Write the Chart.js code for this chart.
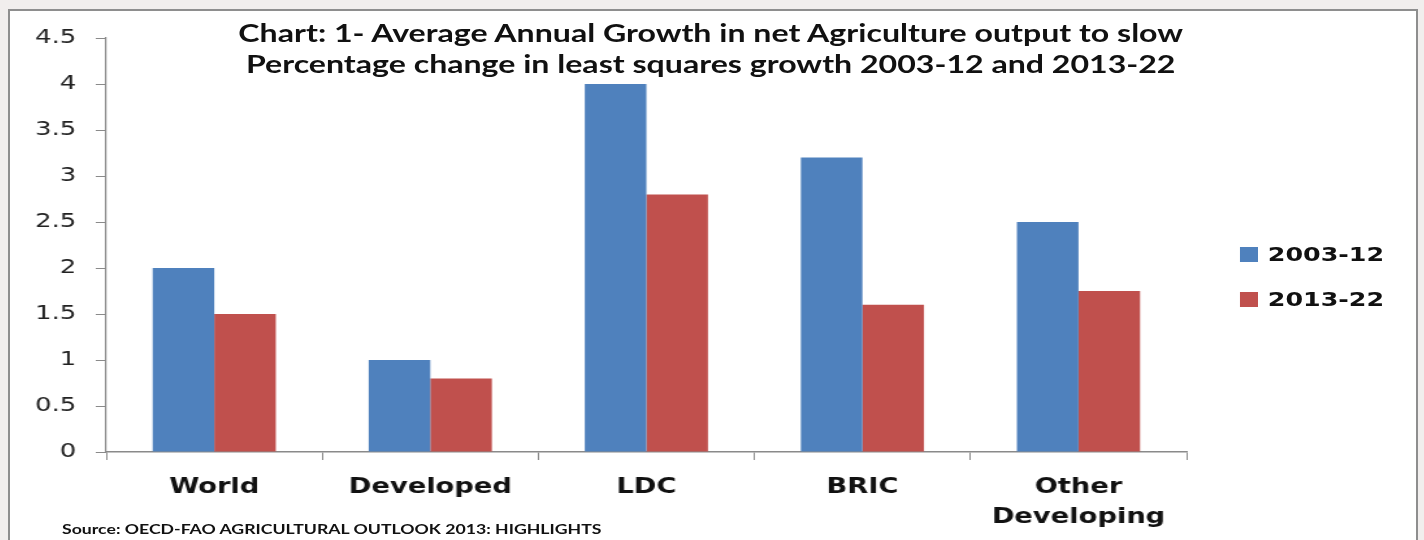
<!DOCTYPE html>
<html>
<head>
<meta charset="utf-8">
<script src="https://cdn.jsdelivr.net/npm/chart.js@4.4.1/dist/chart.umd.min.js"></script>
<style>
  body { margin: 0; width: 1424px; height: 540px; overflow: hidden; position: relative; background: #f1eeed; }
  #frame { position: absolute; left: 8px; top: 9px; width: 1406px; height: 560px; background: #fff; border: 2px solid #8e8e8e; }
  /* the original picture is stretched sideways, so the whole chart is too */
  #stage { position: absolute; left: 10px; top: 11px; width: 1082px; height: 529px; transform: scaleX(1.3); transform-origin: 0 0; }
  #chart-box { position: absolute; left: 0; top: 0; width: 1082px; height: 529px; }
  .title { position: absolute; left: 139px; width: 800px; text-align: center; font: bold 24.7px Lato, sans-serif; color: #111; line-height: 28px; white-space: nowrap; }
  #source { position: absolute; left: 40px; top: 510px; font: bold 13.6px Lato, sans-serif; color: #111; white-space: nowrap; }
  #legend { position: absolute; left: 945.5px; top: 231px; }
  .leg-item { display: flex; align-items: center; height: 24px; margin-bottom: 21px; font: bold 19.5px "DejaVu Sans", sans-serif; color: #111; }
  .leg-box { width: 14px; height: 15px; margin-right: 8px; }
</style>
</head>
<body>
<div id="frame"></div>
<div id="stage">
  <div id="chart-box"><canvas id="growth-chart"></canvas></div>
  <div class="title" style="top: 8px;">Chart: 1- Average Annual Growth in net Agriculture output to slow</div>
  <div class="title" style="top: 39px;">Percentage change in least squares growth 2003-12 and 2013-22</div>
  <div id="legend"></div>
  <div id="source">Source: OECD-FAO AGRICULTURAL OUTLOOK 2013: HIGHLIGHTS</div>
</div>
<script>
// データ
const categories = ['World', 'Developed', 'LDC', 'BRIC', ['Other', 'Developing']];
const seriesNames = ['2003-12', '2013-22'];
const growth2003to12 = [2.0, 1.0, 4.0, 3.2, 2.5];
const growth2013to22 = [1.5, 0.8, 2.8, 1.6, 1.75];
const seriesColors = ['#4f81bd', '#c0504d'];
const yMin = 0;
const yMax = 4.5;
const yStep = 0.5;

const axisGray = '#8a8a8a';

const ctx = document.getElementById('growth-chart').getContext('2d');
const growthChart = new Chart(ctx, {
    type: 'bar',
    data: {
        labels: categories,
        datasets: [
            { label: seriesNames[0], data: growth2003to12, backgroundColor: seriesColors[0] },
            { label: seriesNames[1], data: growth2013to22, backgroundColor: seriesColors[1] }
        ]
    },
    options: {
        responsive: true,
        maintainAspectRatio: false,
        animation: false,
        layout: { padding: { top: 26, right: 177, left: 0, bottom: 0 } },
        datasets: {
            bar: { categoryPercentage: 0.57, barPercentage: 1.0 }
        },
        plugins: {
            legend: { display: false },
            tooltip: { enabled: false }
        },
        scales: {
            x: {
                grid: { offset: true, drawOnChartArea: false, tickLength: 8, color: axisGray },
                border: { color: axisGray, width: 1.5 },
                ticks: {
                    color: '#111',
                    padding: 13,
                    font: { family: 'DejaVu Sans', size: 21, weight: 'bold', lineHeight: 1.43 },
                    maxRotation: 0
                },
                afterFit: scale => { scale.height = 88; }
            },
            y: {
                min: yMin,
                max: yMax,
                grid: { drawOnChartArea: false, tickLength: 8, color: axisGray },
                border: { color: axisGray, width: 1.2 },
                ticks: {
                    stepSize: yStep,
                    color: '#222',
                    padding: 15,
                    font: { family: 'DejaVu Sans', size: 20 },
                    callback: value => value.toString()
                },
                afterFit: scale => { scale.width = 74; }
            }
        }
    }
});

// 凡例（右側）
const legendBox = document.getElementById('legend');
growthChart.data.datasets.forEach(ds => {
    const item = document.createElement('div');
    item.className = 'leg-item';
    const box = document.createElement('span');
    box.className = 'leg-box';
    box.style.background = ds.backgroundColor;
    const text = document.createElement('span');
    text.textContent = ds.label;
    item.appendChild(box);
    item.appendChild(text);
    legendBox.appendChild(item);
});
</script>
</body>
</html>
